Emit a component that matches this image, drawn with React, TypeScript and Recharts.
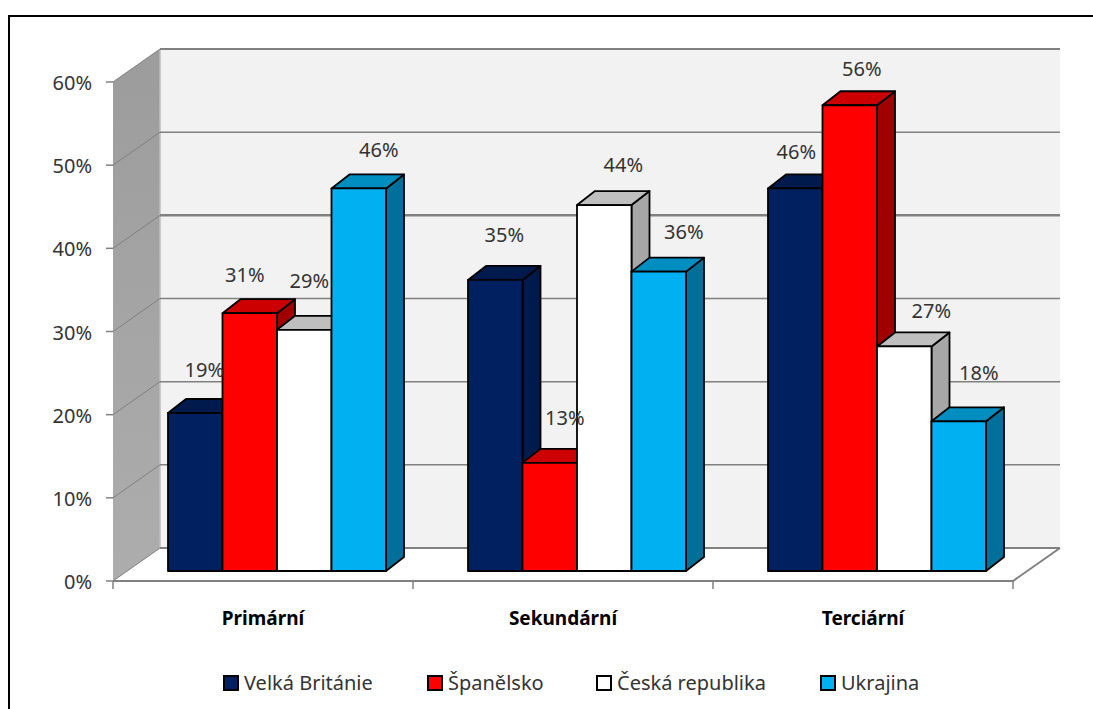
import React from "react";
import { BarChart, Bar, XAxis, YAxis, CartesianGrid, Legend, LabelList } from "recharts";

const categories = ["Primární", "Sekundární", "Terciární"];
const seriesNames = ["Velká Británie", "Španělsko", "Česká republika", "Ukrajina"];
const velkaBritanie = [19, 35, 46];
const spanelsko = [31, 13, 56];
const ceskaRepublika = [29, 44, 27];
const ukrajina = [46, 36, 18];
const yTicks = [0, 10, 20, 30, 40, 50, 60];

const data = categories.map((name, i) => ({
    name,
    [seriesNames[0]]: velkaBritanie[i],
    [seriesNames[1]]: spanelsko[i],
    [seriesNames[2]]: ceskaRepublika[i],
    [seriesNames[3]]: ukrajina[i]
}));

const WIDTH = 1093;
const HEIGHT = 709;
const LEGEND_HEIGHT = 40;
const PLOT = { left: 127, top: 72, right: 1027, bottom: 571 };
const BAND = (PLOT.right - PLOT.left) / categories.length;

// oblique projection: bars stand a little behind the front floor edge
const FRONT = { dx: -14, dy: 10 };
const BACK = { dx: 33, dy: -23 };
const BAR_DEPTH = { dx: 18, dy: -14 };

const GRID_COLOR = "#808080";
const TEXT_COLOR = "#333333";
const FONT = "'Noto Sans', sans-serif";

const colors = [
    { front: "#002060", top: "#001a4d", side: "#001a4d" },
    { front: "#ff0000", top: "#cc0000", side: "#a00000" },
    { front: "#ffffff", top: "#bfbfbf", side: "#a6a6a6" },
    { front: "#00b0f0", top: "#008dc0", side: "#00709a" }
];

// hand-placed data labels: shift from the top centre of each bar
const labelShift = [
    [{ x: 9, y: -43 }, { x: 9, y: -45 }, { x: 1, y: -36 }],
    [{ x: -5, y: -38 }, { x: 15, y: -45 }, { x: 12, y: -36 }],
    [{ x: 5, y: -49 }, { x: 19, y: -40 }, { x: 27, y: -35 }],
    [{ x: 20, y: -38 }, { x: 25, y: -40 }, { x: 20, y: -48 }]
];

const Box3D = (props: any) => {
    const { x, y, width, height, palette } = props;
    const { dx, dy } = BAR_DEPTH;
    const r = x + width;
    const b = y + height;
    const edge = { stroke: "#000000", strokeWidth: 1.8, strokeLinejoin: "round" as const };
    return (
        <g>
            <path d={`M${r} ${y}L${r + dx} ${y + dy}V${b + dy}L${r} ${b}Z`} fill={palette.side} {...edge} />
            <path d={`M${x} ${y}L${x + dx} ${y + dy}H${r + dx}L${r} ${y}Z`} fill={palette.top} {...edge} />
            <rect x={x} y={y} width={width} height={height} fill={palette.front} {...edge} />
        </g>
    );
};

// side wall, back wall and floor of the box the bars stand in
const Walls = () => {
    const { left: l, right: r, top: t, bottom: b } = PLOT;
    return (
        <g>
            <defs>
                <linearGradient id="sideWall" x1="0" y1="0" x2="0" y2="1">
                    <stop offset="0" stopColor="#9c9c9c" />
                    <stop offset="1" stopColor="#adadad" />
                </linearGradient>
            </defs>
            <polygon
                points={`${l + FRONT.dx},${t + FRONT.dy} ${l + BACK.dx},${t + BACK.dy} ${l + BACK.dx},${b + BACK.dy} ${l + FRONT.dx},${b + FRONT.dy}`}
                fill="url(#sideWall)"
            />
            <rect x={l + BACK.dx} y={t + BACK.dy} width={r - l} height={b - t} fill="#f2f2f2" />
            <line x1={l + BACK.dx} y1={t + BACK.dy} x2={l + BACK.dx} y2={b + BACK.dy} stroke="#bdbdbd" strokeWidth={1.5} />
            <polyline
                points={`${l + FRONT.dx},${b + FRONT.dy} ${r + FRONT.dx},${b + FRONT.dy} ${r + BACK.dx},${b + BACK.dy}`}
                fill="none"
                stroke={GRID_COLOR}
                strokeWidth={2}
            />
        </g>
    );
};

// one grid level: line on the back wall plus its diagonal over the side wall
const GridLevel = (props: any) => {
    const { x1, x2, y1, index } = props;
    const weight = [2, 1.5, 1.5, 1.5, 2.5, 1.5, 2][index] ?? 1.5;
    return (
        <g>
            {index === 0 && <Walls />}
            <g stroke={GRID_COLOR} fill="none">
                <line x1={x1 + BACK.dx} y1={y1 + BACK.dy} x2={x2 + BACK.dx} y2={y1 + BACK.dy} strokeWidth={weight} />
                <line x1={x1 + FRONT.dx} y1={y1 + FRONT.dy} x2={x1 + BACK.dx} y2={y1 + BACK.dy} strokeWidth={1} />
            </g>
        </g>
    );
};

const ValueTick = (props: any) => {
    const { y, payload } = props;
    const px = PLOT.left + FRONT.dx;
    const py = y + FRONT.dy;
    return (
        <g>
            <line x1={px - 7} y1={py} x2={px} y2={py} stroke={GRID_COLOR} strokeWidth={1.5} />
            <text x={px - 21} y={py + 8} textAnchor="end" fontFamily={FONT} fontSize={20} fill={TEXT_COLOR}>
                {`${payload.value}%`}
            </text>
        </g>
    );
};

const CategoryTick = (props: any) => {
    const { x, payload, index } = props;
    const px = x + FRONT.dx;
    const baseY = PLOT.bottom + FRONT.dy;
    return (
        <g>
            <line x1={px - BAND / 2} y1={baseY} x2={px - BAND / 2} y2={baseY + 8} stroke={GRID_COLOR} strokeWidth={1.5} />
            {index === categories.length - 1 && (
                <line x1={px + BAND / 2} y1={baseY} x2={px + BAND / 2} y2={baseY + 8} stroke={GRID_COLOR} strokeWidth={1.5} />
            )}
            <text x={px} y={625} textAnchor="middle" fontFamily={FONT} fontSize={19} fontWeight={700} fill="#000000">
                {payload.value}
            </text>
        </g>
    );
};

const legendX = [224, 428, 597, 821];

const LegendRow = () => (
    <svg width={WIDTH} height={LEGEND_HEIGHT} style={{ display: "block" }}>
        {seriesNames.map((name, i) => (
            <g key={name}>
                <rect x={legendX[i]} y={14} width={14} height={14} fill={colors[i].front} stroke="#000000" strokeWidth={2} />
                <text x={legendX[i] + 20} y={28} fontFamily={FONT} fontSize={20} fill={TEXT_COLOR}>
                    {name}
                </text>
            </g>
        ))}
    </svg>
);

const ValueLabel = (series: number) => (props: any) => {
    const { x, y, width, value, index } = props;
    const shift = labelShift[series][index];
    return (
        <text x={x + width / 2 + shift.x} y={y + shift.y + 7} textAnchor="middle" fontFamily={FONT} fontSize={20} fill={TEXT_COLOR}>
            {`${value}%`}
        </text>
    );
};

const App: React.FC = () => (
    <div style={{ position: "fixed", left: 0, top: 0, width: WIDTH, height: HEIGHT, background: "#ffffff", overflow: "hidden" }}>
        <div style={{ position: "absolute", left: 8, top: 15, width: WIDTH, height: HEIGHT, border: "2px solid #000000", boxSizing: "border-box" }} />
        <div style={{ position: "absolute", left: 0, top: 0 }}>
            <BarChart
                width={WIDTH}
                height={HEIGHT}
                data={data}
                barSize={54.5}
                barGap={0}
                margin={{ left: 0, top: PLOT.top, right: WIDTH - PLOT.right, bottom: 0 }}
            >
                <CartesianGrid vertical={false} horizontal={(p: any) => <GridLevel key={p.index} {...p} />} />
                <XAxis dataKey="name" axisLine={false} tickLine={false} height={HEIGHT - PLOT.bottom - LEGEND_HEIGHT} tick={<CategoryTick />} interval={0} />
                <YAxis type="number" domain={[0, 60]} ticks={yTicks} axisLine={false} tickLine={false} width={PLOT.left} tick={<ValueTick />} />
                {seriesNames.map((name, i) => (
                    <Bar key={name} dataKey={name} isAnimationActive={false} shape={<Box3D palette={colors[i]} />}>
                        <LabelList dataKey={name} content={ValueLabel(i)} />
                    </Bar>
                ))}
                <Legend verticalAlign="bottom" content={<LegendRow />} wrapperStyle={{ left: 0, top: 662, width: WIDTH }} />
            </BarChart>
        </div>
    </div>
);

export default App;
